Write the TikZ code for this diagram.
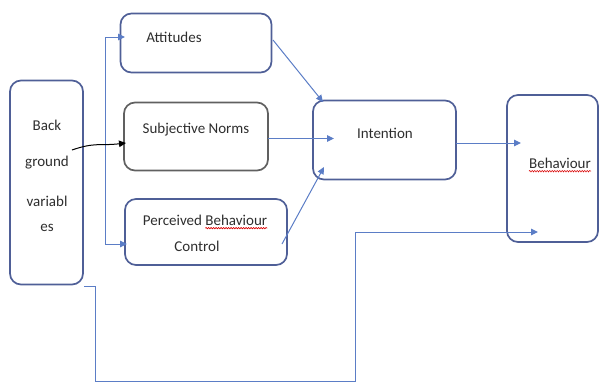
\documentclass[tikz,border=0pt]{standalone}
\usepackage{fontspec}
\setmainfont{Carlito}
\usetikzlibrary{arrows.meta,decorations.pathmorphing}

\begin{document}
\begin{tikzpicture}[x=1pt,y=-1pt,
		box/.style={draw=boxblue, line width=1.7pt, rounded corners=11pt, inner sep=0pt},
		label/.style={text=textgray, font=\fontsize{15}{17}\selectfont, inner sep=0pt, align=center},
		link/.style={draw=lineblue, line width=1pt, -{Triangle[length=7pt,width=6.5pt]}},
		squig/.style={draw=red!85!black, line width=0.6pt, decorate, decoration={snake, amplitude=0.7pt, segment length=2.5pt}}]
	\definecolor{boxblue}{HTML}{4F5F97}
	\definecolor{lineblue}{HTML}{5B7DC6}
	\definecolor{textgray}{HTML}{2E2E2E}
	\useasboundingbox (0,0) rectangle (600,383);

	% boxes
	\node[box, minimum width=73pt, minimum height=204pt] (bg) at (46.5,182.5) {};
	\node[box, minimum width=151pt, minimum height=59pt] (att) at (196,43) {};
	\node[box, draw=gray!75!black, minimum width=144pt, minimum height=68pt] (sn) at (196,136.5) {};
	\node[box, minimum width=162pt, minimum height=66pt] (pbc) at (206,232) {};
	\node[box, minimum width=143pt, minimum height=79pt] (int) at (384.5,140) {};
	\node[box, minimum width=91pt, minimum height=147pt] (beh) at (552.5,168.5) {};

	% texts
	\foreach \t/\y [count=\i] in {Back/125, ground/163, variabl/201, es/228} {
			\node[label] (bgt\i) at (47,\y) {\t};
		}
	\node[label] (attt) at (174,37) {Attitudes};
	\node[label] (snt) at (196,130) {Subjective Norms};
	\node[label] (pbct) at (205,220) {Perceived Behaviour};
	\node[label] (pbcc) at (197,246) {Control};
	\node[label] (intt) at (385,133) {Intention};
	\node[label] (beht) at (560,163) {Behaviour};
	\draw[squig] ([xshift=-62pt,yshift=-3pt]pbct.base east) -- ([yshift=-3pt]pbct.base east);
	\draw[squig] ([yshift=-3pt]beht.base west) -- ([yshift=-3pt]beht.base east);

	% connector ends
	\coordinate (fork) at (105,140);
	\coordinate (a1) at (125,37);
	\coordinate (p1) at (127,244);
	\coordinate (b1) at (72,150);
	\coordinate (s1) at (126,143);
	\coordinate (a2) at (273,40);
	\coordinate (i1) at (323,102);
	\coordinate (s2) at (268,138.5);
	\coordinate (i2) at (334,138.5);
	\coordinate (p2) at (282,244);
	\coordinate (i3) at (324,167);
	\coordinate (i4) at (456,143);
	\coordinate (h1) at (521,143);
	\coordinate (f1) at (84,286);
	\coordinate (f2) at (95,381);
	\coordinate (f3) at (355,232);
	\coordinate (h2) at (538,232);

	\draw[link] (fork) |- (a1);
	\draw[link] (fork) |- (p1);
	\draw[link, draw=black] (b1) .. controls (95,142) and (100,146) .. (s1);
	\draw[link] (a2) -- (i1);
	\draw[link] (s2) -- (i2);
	\draw[link] (p2) -- (i3);
	\draw[link] (i4) -- (h1);
	\draw[link] (f1) -| (f2) -| (f3) -- (h2);
\end{tikzpicture}
\end{document}
